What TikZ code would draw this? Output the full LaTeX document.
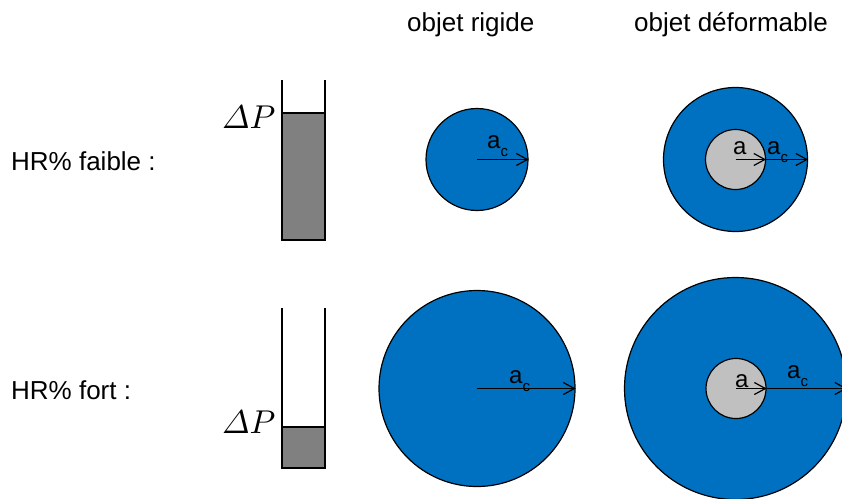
\documentclass[tikz,border=0pt]{standalone}
\usepackage{amsmath}
\usepackage{fontspec}
\newfontfamily\arial{Liberation Sans}
\usetikzlibrary{arrows.meta}
\definecolor{cblue}{RGB}{0,112,192}
\definecolor{cgrayin}{RGB}{192,192,192}
\definecolor{ctube}{RGB}{128,128,128}
\newcommand\mysubc{\raisebox{-8pt}{\fontsize{15}{15}\selectfont c}}
\newcommand\mydp{\scalebox{3.3}{$\varDelta P$}}
\begin{document}
\begin{tikzpicture}[x=1pt,y=-1pt,
  lbl/.style={font=\arial\fontsize{26}{30}\selectfont, anchor=base west, inner sep=0},
  rad/.style={font=\arial\fontsize{24}{28}\selectfont, anchor=base west, inner sep=0},
  disk/.style={circle, draw=black, line width=1.2pt, fill=cblue, inner sep=0},
  core/.style={circle, draw=black, line width=1.2pt, fill=cgrayin, inner sep=0},
  radarrow/.style={-{Straight Barb[length=11pt,width=12pt]}, line width=1.2pt},
  wall/.style={line width=1.5pt},
  dp/.style={anchor=base west, inner sep=0}]
\useasboundingbox (0,0) rectangle (842,498);
\clip (0,0) rectangle (842,498);

% column titles
\node[lbl] (t1) at (407,31.7) {objet rigide};
\node[lbl] (t2) at (634,31.7) {objet d\'eformable};
% row titles
\node[lbl] (h1) at (11,170) {HR\% faible :};
\node[lbl] (h2) at (11,399) {HR\% fort :};

% tubes
\draw[wall] (282,80) -- (282,240) -- (325,240) -- (325,80);
\filldraw[fill=ctube, draw=black, wall] (282,113) rectangle (325,240);
\node[dp] (p1) at (222,128) {\mydp};

\draw[wall] (282,308) -- (282,468) -- (325,468) -- (325,308);
\filldraw[fill=ctube, draw=black, wall] (282,427) rectangle (325,468);
\node[dp] (p2) at (222,433) {\mydp};

% circles
\node[disk, minimum size=102pt] (r1) at (477,159.5) {};
\node[disk, minimum size=144pt] (d1o) at (735.5,159.5) {};
\node[core, minimum size=60pt] (d1i) at (735.5,159.5) {};
\node[disk, minimum size=196pt] (r2) at (477,388.5) {};
\node[disk, minimum size=222pt] (d2o) at (735.5,388.5) {};
\node[core, minimum size=60pt] (d2i) at (736,388.5) {};

% radii
\draw[radarrow] (r1.center) -- (r1.east);
\draw[radarrow] (d1i.center) -- (d1i.east);
\draw[radarrow] (d1i.east) -- (d1o.east);
\draw[radarrow] (r2.center) -- (r2.east);
\draw[radarrow] (d2i.center) -- (d2i.east);
\draw[radarrow] (d2i.east) -- (d2o.east);

% labels
\node[rad] (l1) at (487,148) {a\mysubc};
\node[rad] (l2) at (733,154) {a};
\node[rad] (l3) at (767,154) {a\mysubc};
\node[rad] (l4) at (509,383) {a\mysubc};
\node[rad] (l5) at (735,387) {a};
\node[rad] (l6) at (787,378) {a\mysubc};
\end{tikzpicture}
\end{document}
